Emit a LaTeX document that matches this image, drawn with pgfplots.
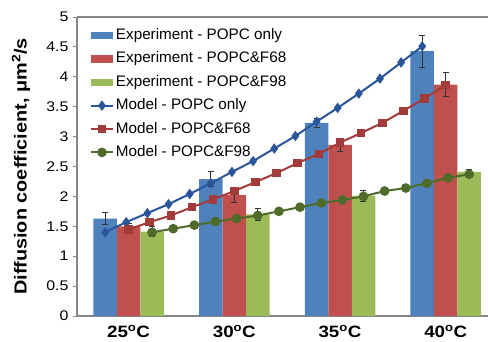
\documentclass[border=0pt]{standalone}
\usepackage{pgfplots}
\pgfplotsset{compat=1.18}
\usepackage{fontspec}
\setmainfont{Liberation Sans}
\newfontfamily\widefont[FakeStretch=1.14]{Liberation Sans}
\definecolor{barblue}{HTML}{4F81BD}
\definecolor{barred}{HTML}{C0504D}
\definecolor{bargreen}{HTML}{9BBB59}
\definecolor{lineblue}{HTML}{2A5699}
\definecolor{linered}{HTML}{A33B3A}
\definecolor{linegreen}{HTML}{4E6B2A}
\definecolor{axgray}{HTML}{868686}
\pgfplotsset{
  barlegend/.style={legend image code/.code={\fill[##1,/tikz/.cd] (0bp,-3.7bp) rectangle (22bp,3.7bp);}},
  linelegend/.style={legend image code/.code={\draw[mark repeat=2,mark phase=2,##1] plot coordinates {(0bp,0bp) (11bp,0bp) (22bp,0bp)};}},
  errplot/.style={forget plot, draw=none, mark=none, error bars/.cd, y dir=both, y explicit},
}
\begin{document}
\begin{tikzpicture}
\useasboundingbox (-77bp,-26bp) rectangle (411bp,316bp);
\begin{axis}[
  scale only axis, width=411bp, height=299bp,
  xmin=22.56, xmax=42.0, ymin=0, ymax=5,
  axis x line*=bottom, axis y line*=left,
  axis line style={axgray, line width=1.1bp},
  clip=false,
  ytick={0,0.5,...,5},
  yticklabels={0,0.5,1,1.5,2,2.5,3,3.5,4,4.5,5},
  y tick label style={font=\widefont\fontsize{14}{16}\selectfont, xshift=-1bp},
  ytick style={axgray, line width=1bp},
  tick align=outside, major tick length=4bp,
  xtick={25,30,35,40},
  xticklabels={25\textsuperscript{o}C,30\textsuperscript{o}C,35\textsuperscript{o}C,40\textsuperscript{o}C},
  x tick label style={font=\widefont\bfseries\fontsize{16.5}{18}\selectfont, yshift=-2bp},
  xtick style={draw=none},
  ylabel={Diffusion coefficient, μm\textsuperscript{2}/s},
  ylabel style={font=\widefont\bfseries\fontsize{17.5}{20}\selectfont, at={(axis description cs:-0.136,0.5)}, anchor=center},
  legend style={at={(axis description cs:0,1)}, anchor=north west, xshift=13bp, yshift=-11.4bp,
    draw=none, fill=none, inner sep=0pt, outer sep=0pt,
    font=\fontsize{15.3}{18}\selectfont,
    nodes={inner sep=0pt, text height=11bp, text depth=3bp},
    row sep=9.4bp, /tikz/every odd column/.append style={column sep=2bp}},
  legend cell align=left,
  error bars/error bar style={draw=black!80, line width=0.8bp},
  error bars/error mark options={rotate=90, mark size=3bp, draw=black!80, line width=0.8bp},
]
% Experimental bars
\addplot[ybar, bar width=23.5bp, bar shift=-23.5bp, fill=barblue, draw=none, barlegend]
  table[x=T, y=D] {
T D
25 1.63
30 2.29
35 3.23
40 4.43
};
\addlegendentry{Experiment - POPC only}
\addplot[ybar, bar width=23.5bp, bar shift=0bp, fill=barred, draw=none, barlegend]
  table[x=T, y=D] {
T D
25 1.50
30 2.02
35 2.86
40 3.87
};
\addlegendentry{Experiment - POPC\&F68}
\addplot[ybar, bar width=23.5bp, bar shift=23.5bp, fill=bargreen, draw=none, barlegend]
  table[x=T, y=D] {
T D
25 1.41
30 1.70
35 2.01
40 2.41
};
\addlegendentry{Experiment - POPC\&F98}
% Error bars at the bar centres
\addplot[errplot] table[x=X, y=D, y error=E] {
X D E
23.89 1.63 0.10
28.89 2.29 0.12
33.89 3.23 0.07
38.89 4.43 0.27
};
\addplot[errplot] table[x=X, y=D, y error=E] {
X D E
25 1.50 0.05
30 2.02 0.12
35 2.86 0.10
40 3.87 0.20
};
\addplot[errplot] table[x=X, y=D, y error=E] {
X D E
26.11 1.41 0.08
31.11 1.70 0.10
36.11 2.01 0.09
41.11 2.41 0.04
};
% Model lines (x offset to bar positions)
\addplot[lineblue, line width=2bp, mark=diamond*, mark size=3.6bp, mark options={fill=lineblue, solid}, linelegend]
  coordinates {
(23.89,1.40) (24.89,1.57) (25.89,1.72) (26.89,1.87) (27.89,2.04) (28.89,2.22) (29.89,2.41) (30.89,2.59)
(31.89,2.80) (32.89,3.01) (33.89,3.25) (34.89,3.48) (35.89,3.72) (36.89,3.97) (37.89,4.24) (38.89,4.51)
};
\addlegendentry{Model - POPC only}
\addplot[linered, line width=2bp, mark=square*, mark size=3.3bp, mark options={fill=linered, solid}, linelegend]
  coordinates {
(25,1.45) (26,1.57) (27,1.68) (28,1.82) (29,1.95) (30,2.09) (31,2.24) (32,2.39)
(33,2.56) (34,2.71) (35,2.90) (36,3.06) (37,3.23) (38,3.43) (39,3.64) (40,3.86)
};
\addlegendentry{Model - POPC\&F68}
\addplot[linegreen, line width=2bp, mark=*, mark size=3.8bp, mark options={fill=linegreen, solid}, linelegend]
  coordinates {
(26.11,1.40) (27.11,1.46) (28.11,1.52) (29.11,1.58) (30.11,1.63) (31.11,1.68) (32.11,1.75) (33.11,1.82)
(34.11,1.89) (35.11,1.94) (36.11,2.00) (37.11,2.09) (38.11,2.14) (39.11,2.22) (40.11,2.31) (41.11,2.37)
};
\addlegendentry{Model - POPC\&F98}
\draw[axgray, line width=1.1bp] (rel axis cs:0,1) -- (rel axis cs:1,1);
\end{axis}
\end{tikzpicture}
\end{document}
